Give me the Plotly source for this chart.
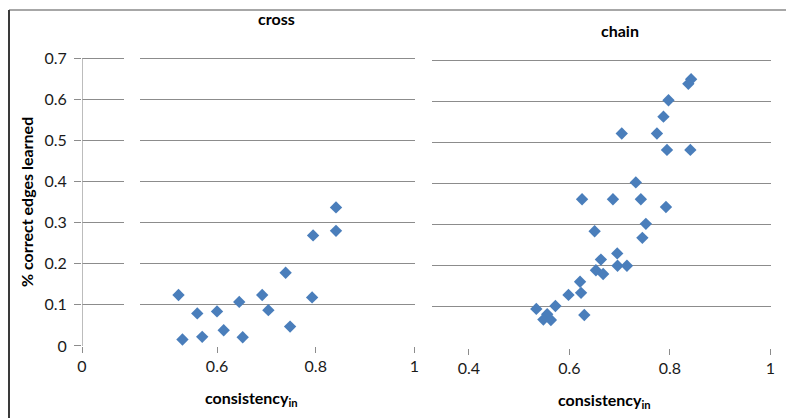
import plotly.graph_objects as go

W, H = 786, 418

# ---- data ----
cross_x = [0.522, 0.530, 0.560, 0.570, 0.600, 0.6135, 0.645, 0.652, 0.6915, 0.704,
           0.739, 0.748, 0.7926, 0.7946, 0.841, 0.841]
cross_y = [0.124, 0.0155, 0.079, 0.022, 0.084, 0.038, 0.107, 0.021, 0.124, 0.087,
           0.178, 0.047, 0.118, 0.269, 0.337, 0.280]

chain_x = [0.842, 0.8365, 0.797, 0.787, 0.704, 0.774, 0.794, 0.8405, 0.732, 0.625,
           0.6865, 0.742, 0.792, 0.752, 0.650, 0.745, 0.695, 0.6625, 0.6956, 0.7143,
           0.6526, 0.667, 0.621, 0.623, 0.598, 0.572, 0.534, 0.6295, 0.5556, 0.548, 0.563]
chain_y = [0.653, 0.642, 0.602, 0.562, 0.521, 0.521, 0.481, 0.481, 0.402, 0.361,
           0.361, 0.361, 0.342, 0.301, 0.283, 0.267, 0.229, 0.214, 0.199, 0.199,
           0.188, 0.179, 0.160, 0.133, 0.128, 0.101, 0.094, 0.079, 0.081, 0.068, 0.067]

y_ticks = [0, 0.1, 0.2, 0.3, 0.4, 0.5, 0.6, 0.7]
y_ticktext = ["0", "0.1", "0.2", "0.3", "0.4", "0.5", "0.6", "0.7"]
cross_x_ticks = [0.6, 0.8, 1.0]
cross_x_ticktext = ["0.6", "0.8", "1"]
chain_x_ticks = [0.4, 0.6, 0.8, 1.0]
chain_x_ticktext = ["0.4", "0.6", "0.8", "1"]
titles = ["cross", "chain"]
y_title = "% correct edges learned"
x_title = "consistency<sub>in</sub>"

# ---- style ----
FONT = "Lato, 'Open Sans', sans-serif"
GRID = "#8c8c8c"
MARK = "#4a7ebb"
TXT = "#1a1a1a"
YTOP = 0.71  # a little above 0.7 so the top gridline is drawn


def px(x):
    return x / W


def py(y):
    return 1 - y / H


def ydom(y0_px, y07_px):
    # domain so that 0 -> y0_px and 0.7 -> y07_px, with range [0, YTOP]
    ppu = (y0_px - y07_px) / 0.7
    top = y0_px - YTOP * ppu
    return [py(y0_px), py(top)]


fig = go.Figure()

fig.add_trace(go.Scatter(x=[None], y=[None], xaxis="x", yaxis="y", showlegend=False,
                         hoverinfo="skip"))
fig.add_trace(go.Scatter(x=cross_x, y=cross_y, mode="markers", xaxis="x2", yaxis="y",
                         marker=dict(symbol="diamond", size=9.5, color=MARK),
                         showlegend=False))
fig.add_trace(go.Scatter(x=chain_x, y=chain_y, mode="markers", xaxis="x3", yaxis="y2",
                         marker=dict(symbol="diamond", size=9.5, color=MARK),
                         showlegend=False))

tickfont = dict(family=FONT, size=16, color=TXT)
xcommon = dict(showgrid=False, zeroline=False, showline=False, ticks="outside",
               ticklen=6, tickcolor=GRID, tickwidth=1, tickfont=tickfont,
               fixedrange=True, automargin=False)

fig.update_layout(
    width=W, height=H,
    margin=dict(l=0, r=0, t=0, b=0, pad=0),
    paper_bgcolor="white", plot_bgcolor="white",
    xaxis=dict(domain=[px(82), px(123.5)], range=[0, 0.25], tickvals=[0],
               ticktext=["0"], anchor="y", **xcommon),
    xaxis2=dict(domain=[px(140), px(414.5)], range=[0.444, 1.0],
                tickvals=cross_x_ticks, ticktext=cross_x_ticktext, anchor="y",
                **xcommon),
    xaxis3=dict(domain=[px(432.3), px(770.5)], range=[0.327, 1.0],
                tickvals=chain_x_ticks, ticktext=chain_x_ticktext, anchor="y2",
                **xcommon),
    yaxis=dict(domain=ydom(345.9, 58.3), range=[0, YTOP], tickvals=y_ticks,
               ticktext=y_ticktext, anchor="x", showgrid=True, gridcolor=GRID,
               gridwidth=1, zeroline=False, showline=False,
               ticks="outside", ticklen=7, tickcolor=GRID,
               tickfont=tickfont, ticklabelstandoff=4, fixedrange=True,
               automargin=False),
    yaxis2=dict(domain=ydom(347.5, 60), range=[0, YTOP], tickvals=y_ticks,
                anchor="x3", showgrid=True, gridcolor=GRID, gridwidth=1,
                zeroline=False, showline=False, showticklabels=False, ticks="",
                fixedrange=True, automargin=False),
)

ann_font_b = dict(family=FONT, size=16, color="#000000")
annotations = [
    dict(text="<b>" + titles[0] + "</b>", x=px(276), y=py(19)),
    dict(text="<b>" + titles[1] + "</b>", x=px(620), y=py(30)),
    dict(text="<b>" + x_title + "</b>", x=px(252), y=py(398)),
    dict(text="<b>" + x_title + "</b>", x=px(604), y=py(400)),
    dict(text="<b>" + y_title + "</b>", x=px(26), y=py(202), textangle=-90),
]
for a in annotations:
    a.update(xref="paper", yref="paper", xanchor="center", yanchor="middle",
             showarrow=False, font=ann_font_b)
fig.update_layout(annotations=annotations)

# y axis line of the left panel: from 0 up to 0.7 only
fig.add_shape(type="line", xref="x", yref="y", x0=0, x1=0, y0=0, y1=0.7,
              line=dict(color="#a6a6a6", width=1.5))

# chart frame (top and left edges visible)
fig.add_shape(type="line", xref="paper", yref="paper", x0=px(9), x1=1,
              y0=py(10), y1=py(10), line=dict(color="#8a8a8a", width=1.5))
fig.add_shape(type="line", xref="paper", yref="paper", x0=px(9), x1=px(9),
              y0=py(10), y1=0, line=dict(color="#3a3a3a", width=2))

fig.write_html(
    "out.html",
    config={"displayModeBar": False},
    post_script="document.body.style.margin='0';document.body.style.overflow='hidden';",
)
